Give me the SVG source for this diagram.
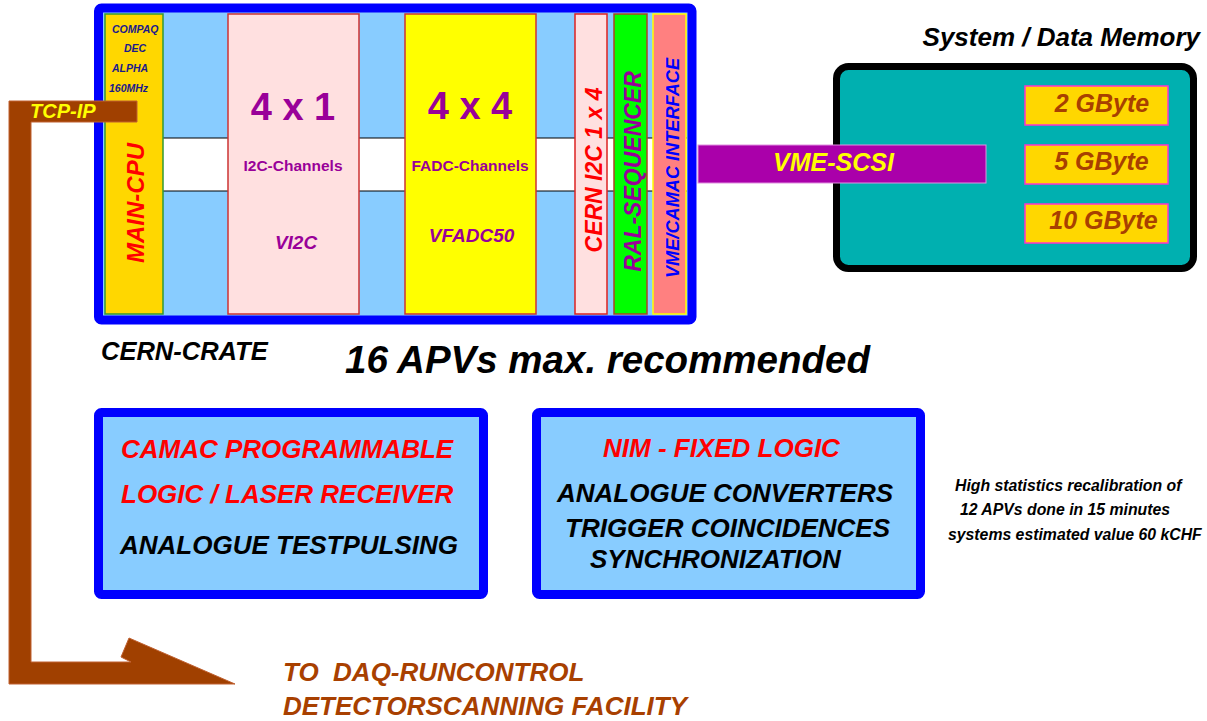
<svg xmlns="http://www.w3.org/2000/svg" width="1207" height="721" viewBox="0 0 1207 721">
<style>
text{font-family:"Liberation Sans",Arial,sans-serif;font-weight:bold;}
.i{font-style:italic;}
.m{text-anchor:middle;}
.e{text-anchor:end;}
.pur{fill:#990099;}
.navy{fill:#1A1A8C;}
.red{fill:#FF0000;}
.blk{fill:#000000;}
.brn{fill:#A84000;}
.panel{fill:#88CCFF;stroke:#0000FF;stroke-width:9;}
.mem{fill:#FFD700;stroke:#FF33CC;stroke-width:1.5;}
</style>
<rect width="1207" height="721" fill="#FFFFFF"/>

<g id="crate">
<rect class="panel" x="98.5" y="8" width="593.5" height="312" rx="3"/>
<rect x="163" y="138" width="524" height="53" fill="#FFFFFF"/>
<line x1="163" y1="138" x2="687" y2="138" stroke="#000" stroke-width="1"/>
<line x1="163" y1="191" x2="687" y2="191" stroke="#000" stroke-width="1"/>
</g>

<g id="main-cpu">
<rect x="105" y="14" width="58" height="300" fill="#FFD700" stroke="#339933" stroke-width="1.5"/>
<text class="i navy" x="112" y="33" font-size="10.5">COMPAQ</text>
<text class="i navy" x="124" y="52" font-size="10.5">DEC</text>
<text class="i navy" x="112" y="72" font-size="10.5">ALPHA</text>
<text class="i navy" x="109" y="92" font-size="10.5">160MHz</text>
<text class="i m red" font-size="24" transform="translate(144,203) rotate(-90)">MAIN-CPU</text>
</g>

<g id="vi2c">
<rect x="228" y="14" width="131" height="300" fill="#FFE0E0" stroke="#CC3333" stroke-width="1.5"/>
<text class="m pur" x="293" y="120" font-size="38">4 x 1</text>
<text class="m pur" x="293" y="171" font-size="15.5">I2C-Channels</text>
<text class="i m pur" x="296" y="249" font-size="19">VI2C</text>
</g>

<g id="vfadc50">
<rect x="405" y="14" width="131" height="300" fill="#FFFF00" stroke="#CC3333" stroke-width="1.5"/>
<text class="m pur" x="470" y="119" font-size="38">4 x 4</text>
<text class="m pur" x="470" y="171" font-size="15.5">FADC-Channels</text>
<text class="i m pur" x="471.5" y="242" font-size="19">VFADC50</text>
</g>

<g id="cern-i2c">
<rect x="575" y="14" width="32" height="300" fill="#FFE0E0" stroke="#DD2222" stroke-width="1.5"/>
<text class="i m red" font-size="23" transform="translate(602,170) rotate(-90)">CERN I2C 1 x 4</text>
</g>

<g id="ral-sequencer">
<rect x="614" y="14" width="33" height="300" fill="#00FF00" stroke="#AA4422" stroke-width="1.5"/>
<text class="i m pur" font-size="23" transform="translate(641,171.5) rotate(-90)">RAL-SEQUENCER</text>
</g>

<g id="vme-camac">
<rect x="653" y="14" width="33" height="300" fill="#FF8080" stroke="#FFFF00" stroke-width="1.5"/>
<text class="i m" fill="#0000FF" font-size="18.5" textLength="220" lengthAdjust="spacingAndGlyphs" transform="translate(679,168) rotate(-90)">VME/CAMAC INTERFACE</text>
</g>

<g id="memory">
<text class="i e blk" x="1200" y="46" font-size="26">System / Data Memory</text>
<rect x="836.5" y="66.5" width="357" height="202" rx="12" fill="#00B0B0" stroke="#000" stroke-width="7"/>
<rect class="mem" x="1025" y="86" width="143" height="39"/>
<rect class="mem" x="1025" y="145" width="143" height="39"/>
<rect class="mem" x="1025" y="204" width="143" height="39"/>
<text class="i m brn" x="1102" y="112" font-size="25">2 GByte</text>
<text class="i m brn" x="1101.5" y="170" font-size="25">5 GByte</text>
<text class="i m brn" x="1103.5" y="229" font-size="25">10 GByte</text>
</g>

<g id="connectors">
<g id="vme-scsi">
<rect x="698" y="145" width="288" height="38" fill="#AA00AA" stroke="#E090E0" stroke-width="1"/>
<text class="i" x="773" y="171" font-size="25" fill="#FFFF00">VME-SCSI</text>
</g>
<g id="tcp-ip">
<polygon points="9,101 137,101 137,122 31,122 31,662 131,662 121,657 129,638 235,684 9,684" fill="#A04000" stroke="#C06030" stroke-width="1"/>
<text class="i" x="30" y="118" font-size="20" fill="#FFFF00">TCP-IP</text>
</g>
</g>

<g id="labels">
<text class="i blk" x="101" y="360" font-size="25.5">CERN-CRATE</text>
<text class="i blk" x="345" y="373" font-size="38.5">16 APVs max. recommended</text>
<text class="i brn" x="283" y="681" font-size="26" xml:space="preserve">TO  DAQ-RUNCONTROL</text>
<text class="i brn" x="283" y="715" font-size="26">DETECTORSCANNING FACILITY</text>
<text class="i blk" x="955" y="491" font-size="15.8">High statistics recalibration of</text>
<text class="i blk" x="960" y="515" font-size="15.8">12 APVs done in 15 minutes</text>
<text class="i blk" x="948" y="540" font-size="15.8">systems estimated value 60 kCHF</text>
</g>

<g id="camac-box">
<rect class="panel" x="98.5" y="412.5" width="385" height="182" rx="3"/>
<text class="i red" x="121" y="458" font-size="26">CAMAC PROGRAMMABLE</text>
<text class="i red" x="121" y="503" font-size="26">LOGIC / LASER RECEIVER</text>
<text class="i blk" x="120" y="554" font-size="26">ANALOGUE TESTPULSING</text>
</g>

<g id="nim-box">
<rect class="panel" x="536.5" y="412.5" width="384" height="182" rx="3"/>
<text class="i red" x="603" y="457" font-size="26">NIM - FIXED LOGIC</text>
<text class="i blk" x="557" y="502" font-size="26">ANALOGUE CONVERTERS</text>
<text class="i blk" x="565" y="537" font-size="26">TRIGGER COINCIDENCES</text>
<text class="i blk" x="590" y="568" font-size="26">SYNCHRONIZATION</text>
</g>
</svg>
